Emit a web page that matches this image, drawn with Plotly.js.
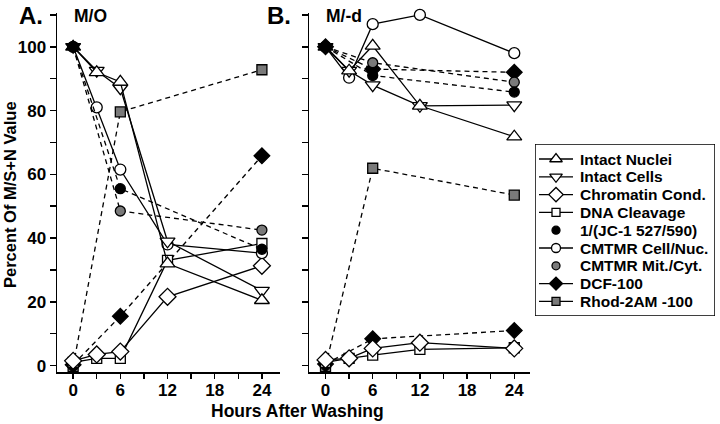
<!DOCTYPE html>
<html>
<head>
<meta charset="utf-8">
<script src="https://cdn.plot.ly/plotly-3.0.1.min.js"></script>
<style>html,body{margin:0;padding:0;background:#fff;}#chart{width:720px;height:424px;}</style>
</head>
<body>
<div id="chart"></div>
<script>
// ---- data ----
const hours5 = [0, 3, 6, 12, 24];
const hours3 = [0, 6, 24];

const seriesNames = ["Intact Nuclei", "Intact Cells", "Chromatin Cond.", "DNA Cleavage",
  "1/(JC-1 527/590)", "CMTMR Cell/Nuc.", "CMTMR Mit./Cyt.", "DCF-100", "Rhod-2AM -100"];

// Panel A (M/O)
const nucleiA = [100, 92, 89, 32, 20.5];
const cellsA  = [100, 92.5, 87, 39, 23.5];
const chromA  = [1.5, 3.5, 4.4, 21.6, 31.3];
const dnaA    = [1, 2.3, 2.3, 33, 38.3];
const jcA     = [100, 55.5, 36.5];
const cmCellA = [100, 81, 61.5, 38, 35.3];
const cmMitA  = [100, 48.5, 42.5];
const dcfA    = [0.3, 15.5, 65.8];
const rhodA   = [-0.3, 79.6, 92.8];

// Panel B (M/-d)
const nucleiB = [100, 92.5, 100.3, 81.5, 71.8];
const cellsB  = [100, 92.5, 88, 81.5, 81.7];
const chromB  = [1.8, 2.3, 5.4, 7.2, 5.4];
const dnaB    = [1, 2.3, 3.3, 5.1, 5.6];
const jcB     = [100, 91, 85.8];
const cmCellB = [100, 90.3, 107.1, 110, 98];
const cmMitB  = [100, 95, 88.9];
const dcfB    = [0.5, 8.4, 11];
const rhodB   = [-0.3, 61.9, 53.5];
const upperDiamondB = [100, 93, 92]; // unlabeled filled diamonds at top of panel B

const xTickVals = [0, 3, 6, 9, 12, 15, 18, 21, 24];
const xTickText = ["0", "", "6", "", "12", "", "18", "", "24"];
const yTickVals = [0, 10, 20, 30, 40, 50, 60, 70, 80, 90, 100, 110];
const yTickText = ["0", "", "20", "", "40", "", "60", "", "80", "", "100", ""];

// ---- styles ----
const GRAY = "#7a7a7a";
const LW = 1.3;
const DASH = "5px,4px";
const styles = {
  "Intact Nuclei":    {symbol: "triangle-up",   fill: "white", size: 13, dash: "solid", legendLine: true},
  "Intact Cells":     {symbol: "triangle-down", fill: "white", size: 13, dash: "solid", legendLine: true},
  "Chromatin Cond.":  {symbol: "diamond",       fill: "white", size: 13, dash: "solid", legendLine: true},
  "DNA Cleavage":     {symbol: "square",        fill: "white", size: 10, dash: "solid", legendLine: true},
  "1/(JC-1 527/590)": {symbol: "circle",        fill: "black", size: 10, dash: DASH,    legendLine: false},
  "CMTMR Cell/Nuc.":  {symbol: "circle",        fill: "white", size: 11, dash: "solid", legendLine: true},
  "CMTMR Mit./Cyt.":  {symbol: "circle",        fill: GRAY,    size: 10, dash: DASH,    legendLine: false},
  "DCF-100":          {symbol: "diamond",       fill: "black", size: 12, dash: DASH,    legendLine: true},
  "Rhod-2AM -100":    {symbol: "square",        fill: GRAY,    size: 10, dash: DASH,    legendLine: true}
};

function mk(name, x, y, xa, ya, opts) {
  const s = styles[name];
  let fill = s.fill;
  if (opts && opts.blackAtZero) fill = x.map(v => v === 0 ? "black" : s.fill);
  return {
    type: "scatter", mode: "lines+markers", name: name, x: x, y: y,
    xaxis: xa, yaxis: ya, showlegend: false, cliponaxis: false,
    line: {color: "black", width: LW, dash: s.dash},
    marker: {symbol: s.symbol, size: s.size, color: fill, line: {color: "black", width: LW}},
    hoverinfo: "x+y+name"
  };
}

const traces = [];
function panel(xa, ya, d) {
  traces.push(mk("Rhod-2AM -100", hours3, d.rhod, xa, ya));
  traces.push(mk("DCF-100", hours3, d.dcf, xa, ya));
  traces.push(mk("DNA Cleavage", hours5, d.dna, xa, ya));
  traces.push(mk("Chromatin Cond.", hours5, d.chrom, xa, ya));
  traces.push(mk("CMTMR Cell/Nuc.", hours5, d.cmCell, xa, ya));
  if (d.upper) {
    const t = mk("DCF-100", hours3, d.upper, xa, ya);
    t.name = "";
    traces.push(t);
  }
  traces.push(mk("CMTMR Mit./Cyt.", hours3, d.cmMit, xa, ya));
  traces.push(mk("1/(JC-1 527/590)", hours3, d.jc, xa, ya));
  traces.push(mk("Intact Cells", hours5, d.cells, xa, ya, {blackAtZero: true}));
  traces.push(mk("Intact Nuclei", hours5, d.nuclei, xa, ya, {blackAtZero: true}));
}
panel("x", "y", {nuclei: nucleiA, cells: cellsA, chrom: chromA, dna: dnaA, jc: jcA,
  cmCell: cmCellA, cmMit: cmMitA, dcf: dcfA, rhod: rhodA});
panel("x2", "y2", {nuclei: nucleiB, cells: cellsB, chrom: chromB, dna: dnaB, jc: jcB,
  cmCell: cmCellB, cmMit: cmMitB, dcf: dcfB, rhod: rhodB, upper: upperDiamondB});

// ---- layout geometry (pixel helpers) ----
const M = {l: 57, r: 5, t: 13, b: 52};
const PW = 720 - M.l - M.r, PH = 424 - M.t - M.b;
const px = v => (v - M.l) / PW;
const py = v => (424 - M.b - v) / PH;

// ---- legend drawn on a hidden pixel-unit axis ----
const LEG = {x0: 535, x1: 715, y0: 144, y1: 316, row0: 159, step: 17.8, lineX0: 539, lineX1: 573, markX: 556, textX: 578};
const annotations = [];
const FONT = "Liberation Sans, Arial, Helvetica, sans-serif";
seriesNames.forEach((n, i) => {
  const s = styles[n];
  const ry = LEG.row0 + i * LEG.step;
  if (s.legendLine) {
    traces.push({type: "scatter", mode: "lines", x: [LEG.lineX0, LEG.lineX1], y: [ry, ry],
      xaxis: "x3", yaxis: "y3", showlegend: false, hoverinfo: "skip",
      line: {color: "black", width: LW}});
  }
  traces.push({type: "scatter", mode: "markers", x: [LEG.markX], y: [ry],
    xaxis: "x3", yaxis: "y3", showlegend: false, hoverinfo: "skip", cliponaxis: false,
    marker: {symbol: s.symbol, size: s.size - 2, color: s.fill, line: {color: "black", width: LW}}});
  annotations.push({text: n, x: LEG.textX, y: ry, xref: "x3", yref: "y3",
    xanchor: "left", yanchor: "middle", showarrow: false,
    font: {family: FONT, size: 15.5, weight: "bold", color: "black"}});
});

const tickFont = {family: FONT, size: 17, color: "black", weight: "bold"};
function xaxis(domain, range, anchor) {
  return {domain: domain, range: range, anchor: anchor, showgrid: false, zeroline: false,
    showline: true, linecolor: "black", linewidth: 1.5,
    ticks: "outside", ticklen: 5, tickwidth: 1.5, tickcolor: "black", ticklabelstandoff: -3,
    tickmode: "array", tickvals: xTickVals, ticktext: xTickText, tickfont: tickFont};
}
function yaxis(anchor, labels) {
  return {anchor: anchor, range: [-2, 110.6], showgrid: false, zeroline: false,
    showline: true, linecolor: "black", linewidth: 1.5,
    ticks: "outside", ticklen: 6, tickwidth: 1.5, tickcolor: "black",
    tickmode: "array", tickvals: yTickVals, ticktext: yTickText,
    showticklabels: labels, tickfont: tickFont};
}

function lab(text, x, y, size, angle) {
  return {text: text, x: px(x), y: py(y), xref: "paper", yref: "paper", showarrow: false,
    xanchor: "center", yanchor: "middle", textangle: angle || 0,
    font: {size: size, weight: "bold", family: FONT, color: "black"}};
}
annotations.push(lab("A.", 31, 15, 24));
annotations.push(lab("M/O", 90, 16, 17.5));
annotations.push(lab("B.", 279, 15, 24));
annotations.push(lab("M/-d", 344, 16, 17.5));
annotations.push(lab("Hours After Washing", 297, 411, 17.5));
annotations.push(lab("Percent Of M/S+N Value", 10, 195, 16.5, -90));

const layout = {
  width: 720, height: 424,
  margin: M,
  paper_bgcolor: "white", plot_bgcolor: "white",
  font: {family: FONT, color: "black"},
  showlegend: false,
  xaxis: xaxis([0, px(280)], [-2.05, 26.3], "y"),
  xaxis2: xaxis([px(309), px(530)], [-2.1, 26.0], "y2"),
  yaxis: yaxis("x", true),
  yaxis2: yaxis("x2", false),
  xaxis3: {domain: [px(LEG.x0), px(LEG.x1)], range: [LEG.x0, LEG.x1], anchor: "y3", visible: false, fixedrange: true},
  yaxis3: {domain: [py(LEG.y1), py(LEG.y0)], range: [LEG.y1, LEG.y0], anchor: "x3", visible: false, fixedrange: true},
  shapes: [{type: "rect", xref: "x3", yref: "y3", x0: LEG.x0, x1: LEG.x1, y0: LEG.y0, y1: LEG.y1,
    line: {color: "black", width: 1.5}, fillcolor: "rgba(0,0,0,0)", layer: "below"}],
  annotations: annotations
};

Plotly.newPlot("chart", traces, layout, {staticPlot: true, displayModeBar: false});
</script>
</body>
</html>
